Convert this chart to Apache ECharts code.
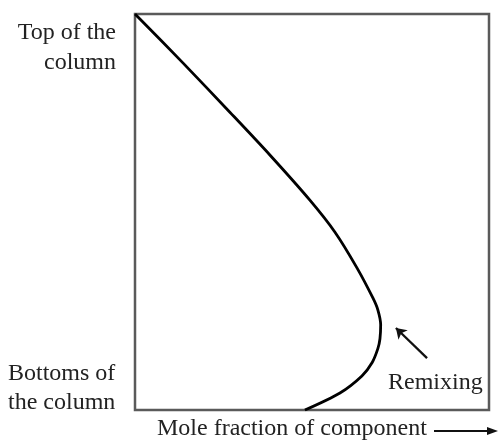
<!DOCTYPE html>
<html>
<head>
<meta charset="utf-8">
<script src="https://cdn.jsdelivr.net/npm/echarts@6/dist/echarts.min.js"></script>
<style>
  html, body {margin: 0; padding: 0; background: #fff;}
  #chart {width: 499px; height: 443px;}
</style>
</head>
<body>
<div id="chart"></div>
<script>
// profile: mole fraction (x) vs height in column (0 = bottom, 1 = top)
const moleFraction = [0, 0.136, 0.268, 0.381, 0.494, 0.565, 0.627, 0.672, 0.686, 0.694, 0.692, 0.686, 0.67, 0.641, 0.579, 0.48];
const columnHeight = [1, 0.876, 0.752, 0.644, 0.53, 0.449, 0.359, 0.283, 0.253, 0.215, 0.18, 0.155, 0.12, 0.086, 0.043, 0];
const remixArrow = [[0.825, 0.131], [0.737, 0.207]];
const topLabel = 'Top of the\ncolumn';
const bottomLabel = 'Bottoms of\nthe column';
const xLabel = 'Mole fraction of component';

const font = '"Liberation Serif", "Times New Roman", serif';
const chart = echarts.init(document.getElementById('chart'));

chart.setOption({
  animation: false,
  grid: {
    left: 135, right: 10, top: 14, bottom: 33,
    show: true, borderColor: '#5a5a5a', borderWidth: 2.5
  },
  xAxis: {
    type: 'value', min: 0, max: 1,
    axisLine: {show: false}, axisTick: {show: false},
    axisLabel: {show: false}, splitLine: {show: false}
  },
  yAxis: {
    type: 'value', min: 0, max: 1,
    axisLine: {show: false}, axisTick: {show: false},
    axisLabel: {show: false}, splitLine: {show: false}
  },
  series: [{
    type: 'line',
    data: moleFraction.map((x, i) => [x, columnHeight[i]]),
    smooth: 0.3,
    symbol: 'none',
    lineStyle: {color: '#000', width: 2.8},
    markLine: {
      silent: true,
      symbol: ['none', 'arrow'],
      symbolSize: 10,
      label: {show: false},
      lineStyle: {color: '#111', width: 2.3, type: 'solid'},
      data: [[{coord: remixArrow[0]}, {coord: remixArrow[1]}]]
    }
  }],
  graphic: [
    {
      type: 'text', x: 116, y: 18,
      style: {text: topLabel, font: '24px ' + font, fill: '#222', align: 'right', lineHeight: 30}
    },
    {
      type: 'text', x: 8, y: 359,
      style: {text: bottomLabel, font: '24px ' + font, fill: '#222', lineHeight: 29}
    },
    {
      type: 'text', x: 388, y: 371,
      style: {text: 'Remixing', font: '24px ' + font, fill: '#222'}
    },
    {
      type: 'text', x: 157, y: 417,
      style: {text: xLabel, font: '24px ' + font, fill: '#222'}
    },
    {
      type: 'line',
      shape: {x1: 434, y1: 431, x2: 490, y2: 431},
      style: {stroke: '#111', lineWidth: 2}
    },
    {
      type: 'polygon',
      shape: {points: [[498, 431], [487, 427], [487, 435]]},
      style: {fill: '#111'}
    }
  ]
});
</script>
</body>
</html>
